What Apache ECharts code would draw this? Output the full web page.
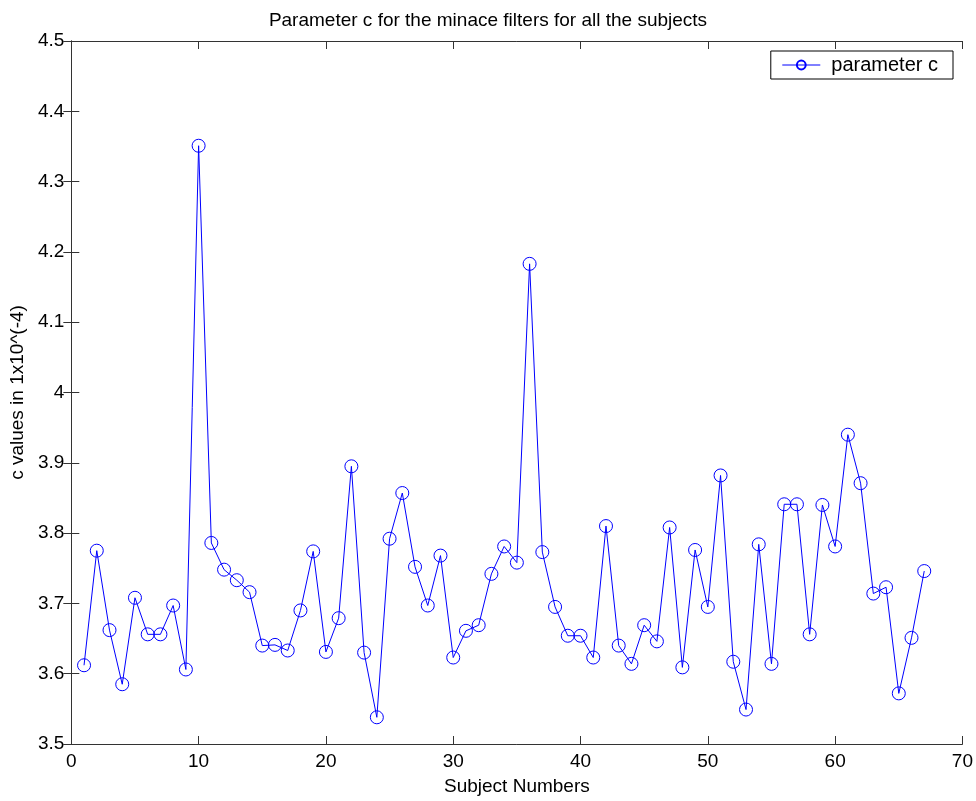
<!DOCTYPE html>
<html>
<head>
<meta charset="utf-8">
<script src="https://cdn.jsdelivr.net/npm/echarts@6/dist/echarts.min.js"></script>
<style>
html,body{margin:0;padding:0;background:#fff;}
#chart{width:976px;height:801px;}
</style>
</head>
<body>
<div id="chart"></div>
<script>
var subjects = [];
for (var i = 1; i <= 67; i++) subjects.push(i);
var cValues = [
  3.612, 3.775, 3.662, 3.585, 3.708, 3.656, 3.656, 3.697, 3.606, 4.351,
  3.786, 3.748, 3.733, 3.716, 3.640, 3.641, 3.633, 3.690, 3.774, 3.631,
  3.679, 3.895, 3.630, 3.538, 3.792, 3.857, 3.752, 3.697, 3.768, 3.623,
  3.661, 3.669, 3.742, 3.781, 3.758, 4.183, 3.773, 3.695, 3.654, 3.654,
  3.623, 3.810, 3.640, 3.614, 3.669, 3.646, 3.808, 3.609, 3.776, 3.695,
  3.882, 3.617, 3.549, 3.784, 3.614, 3.841, 3.841, 3.656, 3.840, 3.781,
  3.940, 3.871, 3.714, 3.723, 3.572, 3.651, 3.746
];
var seriesName = 'parameter c';
var titleText = 'Parameter c for the minace filters for all the subjects';
var xTitle = 'Subject Numbers';
var yTitle = 'c values in 1x10^(-4)';

var data = subjects.map(function (s, i) { return [s, cValues[i]]; });
var font = '"Liberation Sans", Arial, sans-serif';
var fs = 19;
var axisLine = { show: true, lineStyle: { color: '#333', width: 1 } };
var tick = { show: true, inside: true, length: 8, lineStyle: { color: '#333' } };

var chart = echarts.init(document.getElementById('chart'), null, { renderer: 'canvas' });
chart.setOption({
  backgroundColor: '#fff',
  animation: false,
  title: {
    text: titleText,
    left: 'center',
    top: 6,
    textStyle: { fontFamily: font, fontSize: fs, fontWeight: 'normal', color: '#000' }
  },
  legend: {
    data: [seriesName],
    right: 23,
    top: 51,
    orient: 'vertical',
    backgroundColor: '#fff',
    borderColor: '#000',
    borderWidth: 1,
    borderRadius: 0,
    padding: [4, 15, 4, 11],
    itemWidth: 38,
    itemHeight: 11,
    itemGap: 10,
    lineStyle: { width: 1 },
    textStyle: { fontFamily: font, fontSize: 20, color: '#000', padding: [0, 0, 0, 6] }
  },
  grid: { left: 69, right: 13, top: 41, bottom: 57, containLabel: false },
  xAxis: [{
    type: 'value', min: 0, max: 70, interval: 10,
    name: xTitle, nameLocation: 'middle', nameGap: 33,
    nameTextStyle: { fontFamily: font, fontSize: fs, color: '#000' },
    axisLine: axisLine,
    axisTick: tick,
    axisLabel: { fontFamily: font, fontSize: fs, color: '#000', margin: 8 },
    splitLine: { show: false }
  }, {
    type: 'value', min: 0, max: 70, interval: 10, position: 'top',
    axisLine: axisLine,
    axisTick: tick,
    axisLabel: { show: false },
    splitLine: { show: false }
  }],
  yAxis: [{
    type: 'value', min: 3.5, max: 4.5, interval: 0.1,
    name: yTitle, nameLocation: 'middle', nameGap: 36, nameRotate: 90,
    nameTextStyle: { fontFamily: font, fontSize: fs, color: '#000' },
    axisLine: axisLine,
    axisTick: tick,
    axisLabel: {
      fontFamily: font, fontSize: fs, color: '#000', margin: 7,
      formatter: function (v) { return String(Math.round(v * 10) / 10); }
    },
    splitLine: { show: false }
  }, {
    type: 'value', min: 3.5, max: 4.5, interval: 0.1, position: 'right',
    axisLine: axisLine,
    axisTick: tick,
    axisLabel: { show: false },
    splitLine: { show: false }
  }],
  series: [{
    name: seriesName,
    type: 'line',
    xAxisIndex: 0,
    yAxisIndex: 0,
    data: data,
    symbol: 'circle',
    symbolSize: 13,
    showAllSymbol: true,
    lineStyle: { color: '#0000ff', width: 1 },
    itemStyle: { color: 'rgba(0,0,0,0)', borderColor: '#0000ff', borderWidth: 1 },
    emphasis: { disabled: true }
  }]
});
</script>
</body>
</html>
